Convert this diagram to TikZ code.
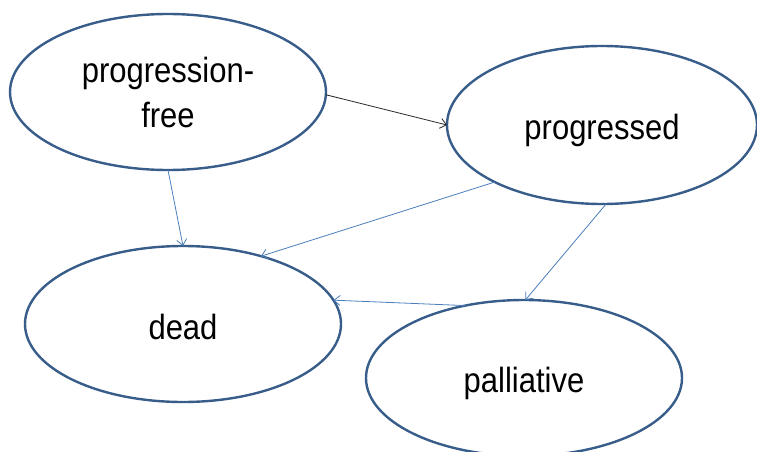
\documentclass[tikz,border=0pt]{standalone}
\usepackage{fontspec}
\usepackage{graphicx}
\setmainfont{Liberation Sans}
\usetikzlibrary{shapes.geometric,arrows.meta}
\definecolor{ellborder}{HTML}{385D8A}
\definecolor{connblue}{HTML}{4A7EBB}
\newcommand{\tallt}[1]{\scalebox{1}[1.13]{#1}}
\newcommand{\lowt}[3]{\raisebox{-#1}[25pt][#2]{\tallt{#3}}}
\tikzset{
  state/.style={ellipse, draw=ellborder, line width=2.4pt, minimum width=316pt,
    minimum height=156pt, inner sep=0pt, outer sep=0pt, align=center,
    font=\fontsize{31}{45}\selectfont},
  conn/.style={draw=connblue, line width=0.8pt,
    -{Straight Barb[length=6pt,width=10pt,line width=0.8pt]}},
  connblack/.style={conn, draw=black!85}
}
\begin{document}
\begin{tikzpicture}[x=1pt,y=-1pt]
  \useasboundingbox (0,0) rectangle (757,452);
  \clip (0,0) rectangle (757,452);
  \node[state] (pf) at (168,92) {\tallt{progression-}\\\tallt{free}};
  \node[state, minimum width=310pt, minimum height=158pt] (pr) at (602,125) {\lowt{6pt}{7.5pt}{progressed}};
  \node[state] (dead) at (183,324) {\lowt{2.5pt}{0pt}{dead}};
  \node[state] (pal) at (524,378) {\lowt{6pt}{7.5pt}{palliative}};
  \draw[connblack] (pf.-1) -- (pr.180);
  \draw[conn] (pf.270) -- (dead.90);
  \draw[conn] (pr.208) -- (dead.41);
  \draw[conn] (pr.273) -- (pal.89);
  \draw[conn] (pal.129) -- (dead.9);
\end{tikzpicture}
\end{document}
